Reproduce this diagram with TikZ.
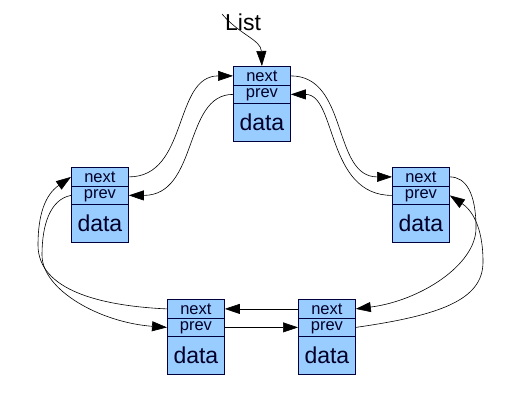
\documentclass[tikz,border=0pt]{standalone}
\usepackage{fontspec}
\setmainfont{Liberation Sans}
\usetikzlibrary{arrows.meta}
\definecolor{cellfill}{RGB}{153,204,255}
\definecolor{celledge}{RGB}{0,0,60}
\definecolor{celltext}{RGB}{0,0,40}
\tikzset{
  cell/.style={draw=celledge, line width=0.8pt, fill=cellfill, text=celltext,
    minimum width=57pt, inner sep=0pt, anchor=north west},
  ptrcell/.style={cell, font=\fontsize{16.5}{17}\selectfont},
  nextcell/.style={ptrcell, minimum height=19pt},
  prevcell/.style={ptrcell, minimum height=18pt},
  datacell/.style={cell, minimum height=38pt, font=\fontsize{23}{25}\selectfont},
  link/.style={draw=black, line width=0.6pt, -{Triangle[length=15pt,width=10pt]}},
}
\newcommand{\llbox}[3]{%
  \node[nextcell] (#1n) at (#2,#3) {next};
  \node[prevcell] (#1p) at (#2,#3+19) {prev};
  \node[datacell] (#1d) at (#2,#3+37) {data};
}
\begin{document}
\begin{tikzpicture}[x=1pt,y=-1pt]
\useasboundingbox (0,0) rectangle (526,404);
\llbox{T}{233}{66}
\llbox{L}{71}{167}
\llbox{R}{392}{167}
\llbox{BL}{167}{299}
\llbox{BR}{298}{299}
\node[font=\fontsize{23}{25}\selectfont, inner sep=0pt] (list) at (243,22) {List};
\coordinate (ls) at (222,14);
\coordinate (rA) at (476,228);
\coordinate (rB) at (483,262);
\coordinate (lA) at (38,245);
\coordinate (lB) at (42,255);
% List pointer
\draw[link] (ls) .. controls (240,35) and (261,40) .. (Tn.north);
% top <-> right
\draw[link] (Tn.east) .. controls +(58,0) and +(-60,0) .. (Rn.west);
\draw[link] (Rp.west) .. controls +(-66,0) and +(46,0) .. (Tp.east);
% top <-> left
\draw[link] (Ln.east) .. controls +(60,0) and +(-60,0) .. (Tn.west);
\draw[link] (Tp.west) .. controls +(-50,0) and +(70,0) .. (Lp.east);
% right <-> bottom right
\draw[link] (Rn.east) .. controls +(16,0) and +(0,-35) .. (rA)
  .. controls +(0,37) and +(64,-8) .. (BRn.east);
\draw[link] (BRp.east) .. controls +(84,-12) and +(0,38) .. (rB)
  .. controls +(0,-37) and +(21,14) .. (Rp.east);
% bottom
\draw[link] (BRn.west) -- (BLn.east);
\draw[link] (BLp.east) -- (BRp.west);
% bottom left <-> left
\draw[link] (BLn.west) .. controls +(-67,-3) and +(0,45) .. (lA)
  .. controls +(0,-30) and +(-26,18) .. (Ln.west);
\draw[link] (Lp.west) .. controls +(-21,4) and +(0,-30) .. (lB)
  .. controls +(0,35) and +(-67,-5) .. (BLp.west);
\end{tikzpicture}
\end{document}
